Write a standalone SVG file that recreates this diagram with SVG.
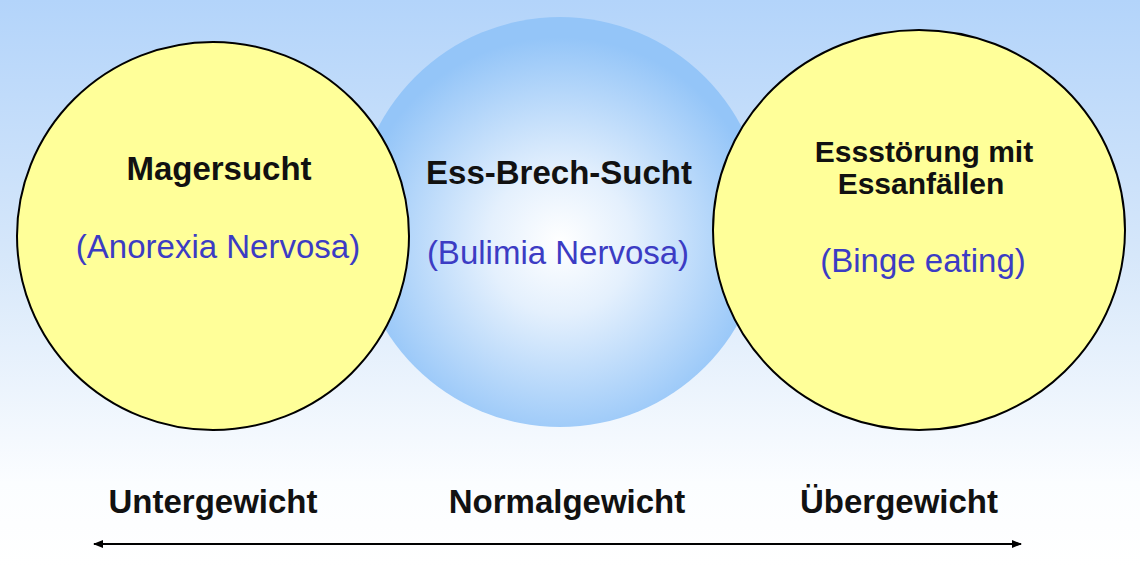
<svg xmlns="http://www.w3.org/2000/svg" width="1140" height="567" viewBox="0 0 1140 567">
<defs>
<linearGradient id="bg" x1="0" y1="0" x2="0" y2="1">
<stop offset="0" stop-color="#b3d4fa"/>
<stop offset="0.45" stop-color="#d6e7fa"/>
<stop offset="0.85" stop-color="#fbfdff"/>
<stop offset="1" stop-color="#ffffff"/>
</linearGradient>
<radialGradient id="blue" cx="0.5" cy="0.55" r="0.5">
<stop offset="0" stop-color="#ffffff"/>
<stop offset="0.35" stop-color="#e4f0fd"/>
<stop offset="1" stop-color="#94c5f8"/>
</radialGradient>
<marker id="ah" viewBox="0 0 10 10" refX="9" refY="5" markerWidth="10" markerHeight="10" markerUnits="userSpaceOnUse" orient="auto-start-reverse">
<path d="M0,1 L10,5 L0,9 Z" fill="#000"/>
</marker>
<style>
.y{fill:#ffff99;stroke:#000;stroke-width:2}
.t{font-family:"Liberation Sans",Arial,sans-serif;font-weight:bold;font-size:33px;fill:#111;text-anchor:middle}
.t2{font-size:30px}
.s{font-family:"Liberation Sans",Arial,sans-serif;font-size:33px;fill:#3c3cc4;text-anchor:middle}
</style>
</defs>
<rect width="1140" height="567" fill="url(#bg)"/>
<g id="bulimia">
<circle cx="560" cy="222" r="205" fill="url(#blue)"/>
<text class="t" x="559" y="184">Ess-Brech-Sucht</text>
<text class="s" x="558" y="264">(Bulimia Nervosa)</text>
</g>
<g id="anorexia">
<ellipse class="y" cx="213" cy="236" rx="196" ry="194"/>
<text class="t" x="219" y="180">Magersucht</text>
<text class="s" x="218" y="258">(Anorexia Nervosa)</text>
</g>
<g id="binge">
<ellipse class="y" cx="919" cy="230" rx="206" ry="200"/>
<text class="t t2" x="924" y="162">Essstörung mit</text>
<text class="t t2" x="921" y="194">Essanfällen</text>
<text class="s" x="923" y="272">(Binge eating)</text>
</g>
<g id="scale">
<text class="t" x="213" y="513">Untergewicht</text>
<text class="t" x="567" y="513">Normalgewicht</text>
<text class="t" x="899" y="513">Übergewicht</text>
</g>
<g id="connectors">
<line x1="94" y1="544" x2="1021" y2="544" stroke="#000" stroke-width="2" marker-start="url(#ah)" marker-end="url(#ah)"/>
</g>
</svg>
